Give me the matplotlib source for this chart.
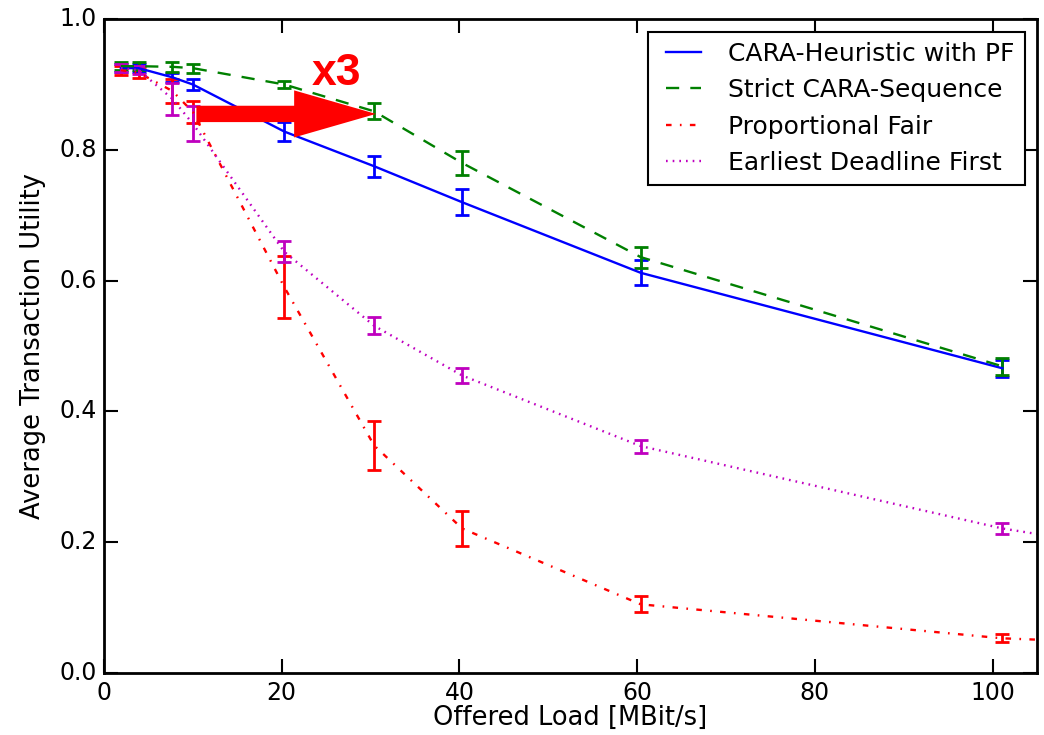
import matplotlib
matplotlib.use("Agg")
import matplotlib.pyplot as plt

plt.style.use("classic")
plt.rcParams["font.family"] = ["DejaVu Sans"]

# offered load [MBit/s]
load = [1.9, 3.9, 7.7, 10.0, 20.3, 30.4, 40.3, 60.4, 101.1]
# PF and EDF runs have one more point beyond the visible range
load_ext = [1.9, 3.9, 7.7, 10.0, 20.3, 30.4, 40.3, 60.4, 101.1, 120.0]

cara_pf = [0.925, 0.925, 0.911, 0.900, 0.828, 0.775, 0.720, 0.612, 0.466]
cara_pf_err = [0.006, 0.006, 0.007, 0.009, 0.015, 0.016, 0.020, 0.019, 0.013]

cara_seq = [0.928, 0.928, 0.927, 0.925, 0.900, 0.859, 0.780, 0.636, 0.469]
cara_seq_err = [0.006, 0.006, 0.008, 0.007, 0.006, 0.012, 0.018, 0.016, 0.013]

pf = [0.922, 0.918, 0.890, 0.858, 0.590, 0.348, 0.221, 0.105, 0.053, 0.043]
pf_err = [0.007, 0.008, 0.018, 0.017, 0.047, 0.037, 0.027, 0.012, 0.006, 0.006]

edf = [0.925, 0.922, 0.878, 0.840, 0.644, 0.531, 0.455, 0.347, 0.221, 0.180]
edf_err = [0.006, 0.006, 0.024, 0.027, 0.016, 0.013, 0.012, 0.010, 0.008, 0.008]

fig = plt.figure(figsize=(10.44, 7.35), dpi=100, facecolor="white")
ax = fig.add_axes([0.0996, 0.0844, 0.8937, 0.8896])

eb = dict(capsize=5, capthick=2, elinewidth=2, lw=1.7)
runs = [
    ax.errorbar(load, cara_pf, yerr=cara_pf_err, color="b", ls="-", **eb),
    ax.errorbar(load, cara_seq, yerr=cara_seq_err, color="g",
                dashes=(9.5, 8), **eb),
    ax.errorbar(load_ext, pf, yerr=pf_err, color="r",
                dashes=(4, 6, 1.2, 6), **eb),
    ax.errorbar(load_ext, edf, yerr=edf_err, color="m",
                dashes=(1.2, 3.6), **eb),
]
names = ["CARA-Heuristic with PF", "Strict CARA-Sequence",
         "Proportional Fair", "Earliest Deadline First"]

# highlight arrow between the two CARA variants
ax.arrow(10.4, 0.855, 20.2, 0, width=0.025, head_width=0.072, head_length=9.2,
         length_includes_head=True, fc="red", ec="none", zorder=5)
ax.text(26.2, 0.899, "x3", color="red", fontsize=32, fontweight="bold",
        family="Liberation Sans", ha="center", va="baseline")

ax.set_xlim(0, 105)
ax.set_ylim(0, 1.0)
ax.set_xticks([0, 20, 40, 60, 80, 100])
ax.set_yticks([0.0, 0.2, 0.4, 0.6, 0.8, 1.0])
ax.tick_params(direction="in", length=10, width=1.5, labelsize=17)
ax.tick_params(axis="x", pad=6)
ax.tick_params(axis="y", pad=5)
for s in ax.spines.values():
    s.set_linewidth(2)

ax.set_xlabel("Offered Load [MBit/s]", fontsize=18.5, labelpad=0)
ax.set_ylabel("Average Transaction Utility", fontsize=18.5, labelpad=10)

leg = ax.legend([r.lines[0] for r in runs], names, loc="upper right",
                fontsize=18, handlelength=2)
leg.get_frame().set_linewidth(1.5)

fig.savefig("out.png", dpi=100, facecolor="white")
